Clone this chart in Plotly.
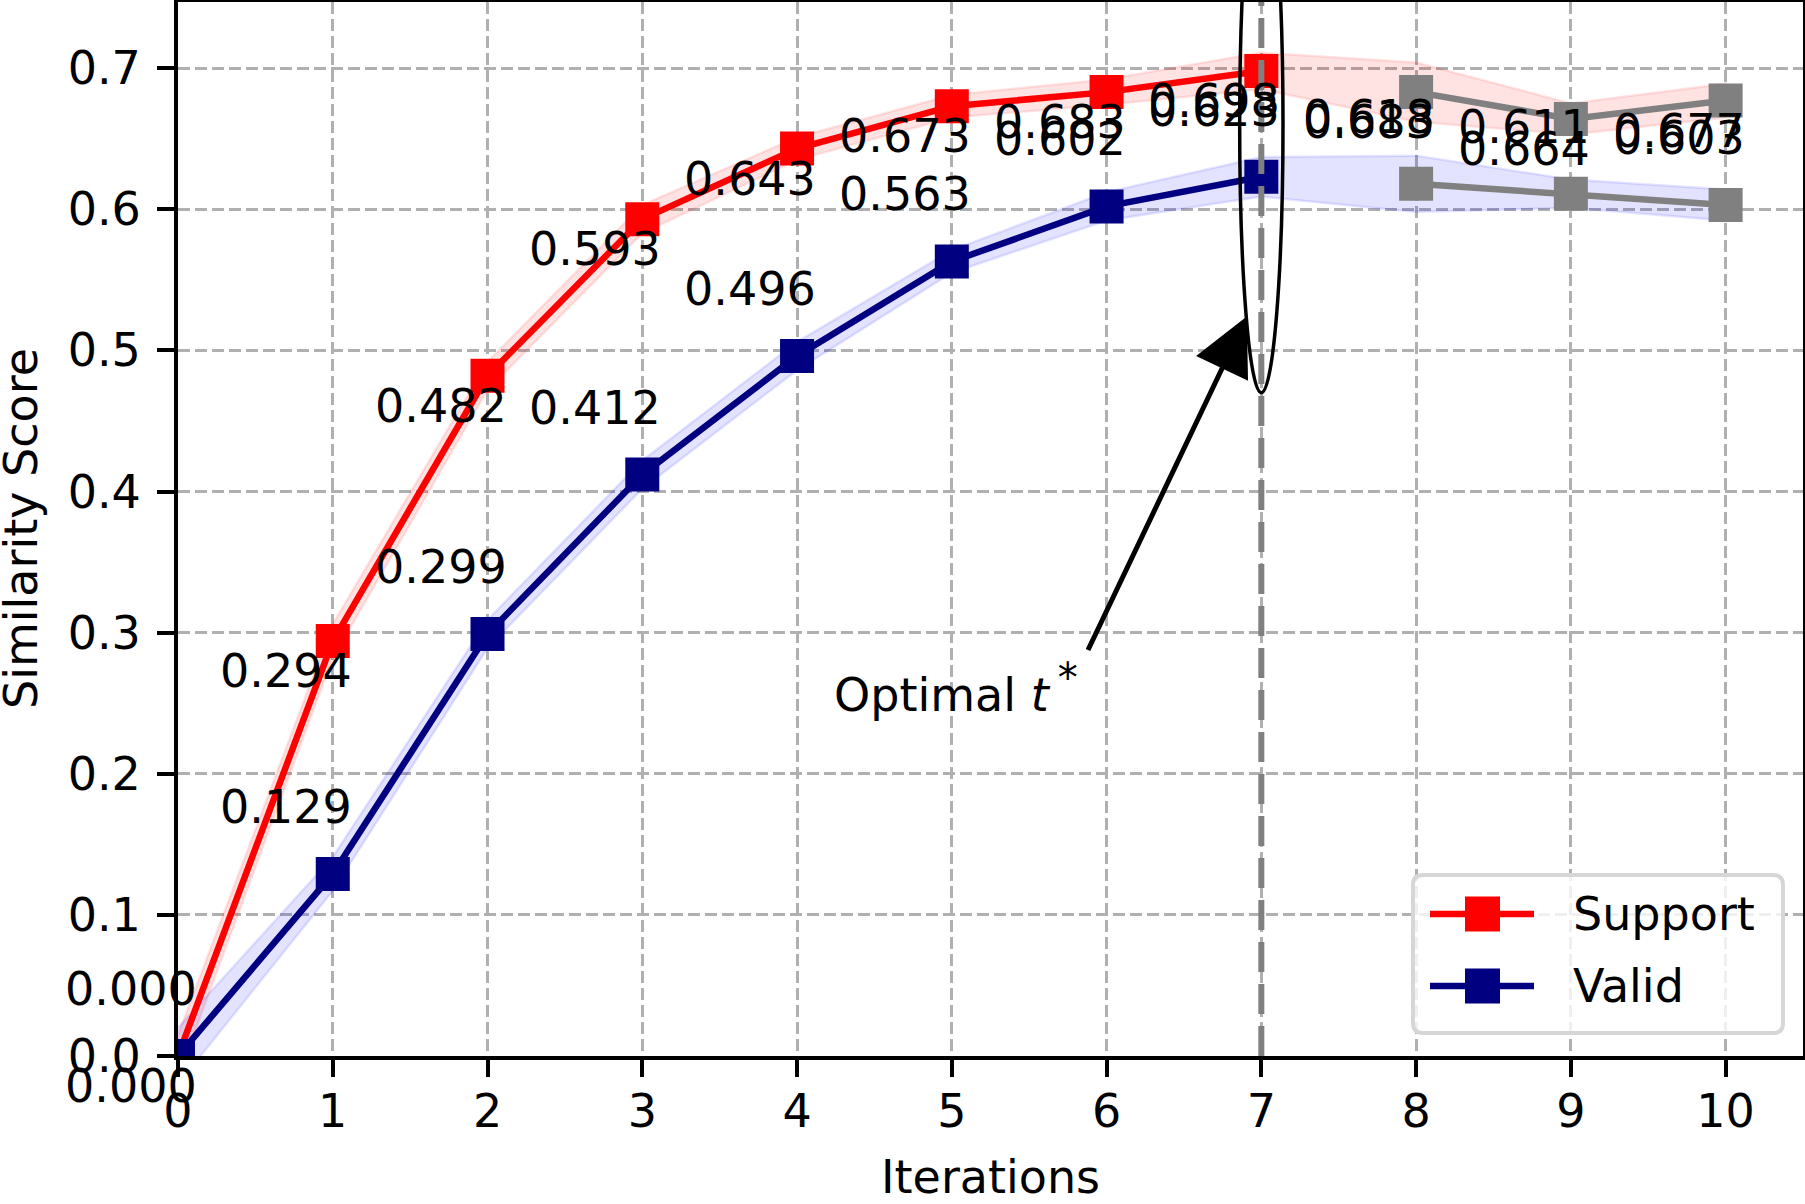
import plotly.graph_objects as go

# ---------------- data ----------------
iterations = [0, 1, 2, 3, 4, 5, 6, 7, 8, 9, 10]
support = [0.000, 0.294, 0.482, 0.593, 0.643, 0.673, 0.683, 0.698, 0.683, 0.664, 0.677]
valid = [0.000, 0.129, 0.299, 0.412, 0.496, 0.563, 0.602, 0.623, 0.618, 0.611, 0.603]
support_std = [0.015, 0.012, 0.010, 0.010, 0.008, 0.008, 0.009, 0.013, 0.021, 0.011, 0.012]
valid_std = [0.020, 0.012, 0.010, 0.010, 0.010, 0.008, 0.010, 0.014, 0.020, 0.010, 0.011]
optimal_t = 7
y_ticks = [0.0, 0.1, 0.2, 0.3, 0.4, 0.5, 0.6, 0.7]
x_ticks = iterations

# ---------------- layout constants ----------------
W, H = 1805, 1204
ML, MR, MT, MB = 178, 2, 2, 148
PW, PH = W - ML - MR, H - MT - MB
XR = [0, 10.5]
YR = [0, max(support) * 1.07]
FONT = "DejaVu Sans"
FS = 46
RED, NAVY, GRAY = "#ff0000", "#000080", "#808080"


def px_x(X):
    return (X - ML) / PW


def px_y(Y):
    return (H - MB - Y) / PH


k = optimal_t + 1  # first index after optimum
fig = go.Figure()

# shaded bands
for vals, std, fill, edge in [
    (support, support_std, "rgba(255,0,0,0.11)", "rgba(255,0,0,0.10)"),
    (valid, valid_std, "rgba(0,0,255,0.11)", "rgba(0,0,255,0.10)"),
]:
    upper = [v + s for v, s in zip(vals, std)]
    lower = [v - s for v, s in zip(vals, std)]
    fig.add_trace(go.Scatter(
        x=iterations + iterations[::-1], y=upper + lower[::-1],
        fill="toself", fillcolor=fill, mode="lines",
        line=dict(color=edge, width=2.5), hoverinfo="skip", showlegend=False))

# main lines up to optimum
fig.add_trace(go.Scatter(x=iterations[:k], y=support[:k], mode="lines+markers",
                         name="Support", line=dict(color=RED, width=6.5),
                         marker=dict(symbol="square", size=34, color=RED),
                         showlegend=False))
fig.add_trace(go.Scatter(x=iterations[:k], y=valid[:k], mode="lines+markers",
                         name="Valid", line=dict(color=NAVY, width=6.5),
                         marker=dict(symbol="square", size=34, color=NAVY),
                         showlegend=False))
# gray continuation after optimum
for vals in (support, valid):
    fig.add_trace(go.Scatter(x=iterations[k:], y=vals[k:], mode="lines+markers",
                             line=dict(color=GRAY, width=6.5),
                             marker=dict(symbol="square", size=34, color=GRAY),
                             showlegend=False))

annotations = []
# value labels
for i, (s, v) in enumerate(zip(support, valid)):
    annotations.append(dict(x=iterations[i], y=s, xref="x", yref="y", text=f"{s:.3f}",
                            showarrow=False, xshift=-47, yshift=-30,
                            xanchor="center", yanchor="middle",
                            font=dict(family=FONT, size=FS, color="black")))
    annotations.append(dict(x=iterations[i], y=v, xref="x", yref="y", text=f"{v:.3f}",
                            showarrow=False, xshift=-47, yshift=67,
                            xanchor="center", yanchor="middle",
                            font=dict(family=FONT, size=FS, color="black")))

# arrow + text
annotations.append(dict(x=6.906, y=0.524, xref="x", yref="y", ax=5.874, ay=0.2863,
                        axref="x", ayref="y", text=" ", showarrow=True,
                        arrowhead=2, arrowwidth=5, arrowsize=2.3, arrowcolor="black",
                        font=dict(size=1)))
annotations.append(dict(x=5.03, y=0.2605, xref="x", yref="y",
                        text="Optimal <i>t</i>&#8201;<sup><span style='font-size:40px'>*</span></sup>",
                        showarrow=False, xanchor="center", yanchor="middle",
                        font=dict(family=FONT, size=FS, color="black")))

# axis titles
annotations.append(dict(x=0.5, y=px_y(1176.5), xref="paper", yref="paper",
                        text="Iterations", showarrow=False, xanchor="center",
                        yanchor="middle", font=dict(family=FONT, size=FS, color="black")))
annotations.append(dict(x=px_x(21), y=0.5, xref="paper", yref="paper",
                        text="Similarity Score", showarrow=False, textangle=-90,
                        xanchor="center", yanchor="middle",
                        font=dict(family=FONT, size=FS, color="black")))

# legend texts
for label, Y in (("Support", 914), ("Valid", 986)):
    annotations.append(dict(x=px_x(1571), y=px_y(Y), xref="paper", yref="paper",
                            text=label, showarrow=False, xanchor="left", yanchor="middle",
                            font=dict(family=FONT, size=FS, color="black")))

shapes = []
# optimum vertical line
shapes.append(dict(type="line", xref="x", yref="paper", x0=optimal_t, x1=optimal_t,
                   y0=0, y1=1, line=dict(color=GRAY, width=6, dash="30px,12px"),
                   layer="above"))
# ellipse
shapes.append(dict(type="circle", xref="x", yref="y", x0=optimal_t - 0.14,
                   x1=optimal_t + 0.14, y0=0.47, y1=0.85,
                   line=dict(color="black", width=3.5), layer="above"))

# legend box (rounded)
bx0, by0, bx1, by1, r = 1413, 875, 1783, 1033, 10
X0, X1 = px_x(bx0), px_x(bx1)
Y0, Y1 = px_y(by1), px_y(by0)
rx, ry = r / PW, r / PH
path = (f"M{X0+rx},{Y0} L{X1-rx},{Y0} Q{X1},{Y0} {X1},{Y0+ry} "
        f"L{X1},{Y1-ry} Q{X1},{Y1} {X1-rx},{Y1} L{X0+rx},{Y1} "
        f"Q{X0},{Y1} {X0},{Y1-ry} L{X0},{Y0+ry} Q{X0},{Y0} {X0+rx},{Y0} Z")
shapes.append(dict(type="path", xref="paper", yref="paper", path=path,
                   fillcolor="rgba(255,255,255,0.8)", line=dict(color="#d6d6d6", width=4),
                   layer="above"))
for color, Y in ((RED, 914), (NAVY, 986)):
    shapes.append(dict(type="line", xref="paper", yref="paper", x0=px_x(1430), x1=px_x(1534),
                       y0=px_y(Y), y1=px_y(Y), line=dict(color=color, width=6.5), layer="above"))
    shapes.append(dict(type="rect", xref="paper", yref="paper", x0=px_x(1465), x1=px_x(1500),
                       y0=px_y(Y + 17.5), y1=px_y(Y - 17.5), fillcolor=color,
                       line=dict(width=0), layer="above"))

axis_common = dict(
    showline=True, linecolor="black", linewidth=4, mirror=True,
    showgrid=True, gridcolor="#b0b0b0", gridwidth=2.5, griddash="12px,5px",
    zeroline=False, ticks="outside", ticklen=17, tickwidth=4, tickcolor="black",
    tickfont=dict(family=FONT, size=FS, color="black"), automargin=False,
)

fig.update_layout(
    width=W, height=H,
    margin=dict(l=ML, r=MR, t=MT, b=MB, pad=0),
    paper_bgcolor="white", plot_bgcolor="white",
    showlegend=False,
    font=dict(family=FONT, size=FS, color="black"),
    xaxis=dict(range=XR, tickmode="array", tickvals=x_ticks,
               ticktext=[str(t) for t in x_ticks], ticklabelstandoff=-5, **axis_common),
    yaxis=dict(range=YR, tickmode="array", tickvals=y_ticks,
               ticktext=[f"{t:.1f}" for t in y_ticks], ticklabelstandoff=7, **axis_common),
    annotations=annotations,
    shapes=shapes,
)

fig.write_html("out.html", config={"displayModeBar": False},
               post_script="document.body.style.margin='0';document.body.style.overflow='hidden';")
